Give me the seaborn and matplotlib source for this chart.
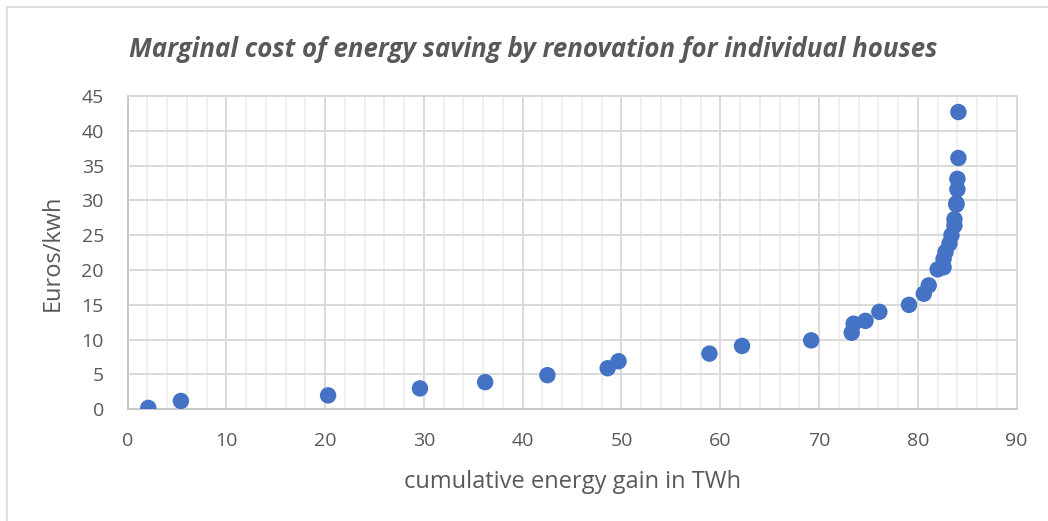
import matplotlib
matplotlib.use("Agg")
import matplotlib.pyplot as plt
import seaborn as sns
import pandas as pd
from matplotlib.ticker import MultipleLocator
from matplotlib.patches import Rectangle

# values
energy_gain = [2.1, 5.4, 20.3, 29.6, 36.2, 42.5, 48.6, 49.7, 58.9, 62.2,
               69.2, 73.3, 73.5, 74.7, 76.1, 79.1, 80.6, 81.1, 82.0, 82.6,
               82.6, 82.8, 83.2, 83.4, 83.7, 83.7, 83.9, 83.9, 84.0, 84.0,
               84.1, 84.1]
cost_per_kwh = [0.2, 1.2, 2.0, 3.0, 3.9, 4.9, 5.9, 6.9, 8.0, 9.1,
                9.9, 11.0, 12.3, 12.7, 14.0, 15.0, 16.6, 17.8, 20.1, 20.4,
                21.6, 22.6, 23.8, 25.0, 26.4, 27.3, 29.4, 29.6, 31.6, 33.1,
                36.1, 42.7]

df = pd.DataFrame({"gain": energy_gain, "cost": cost_per_kwh})

sns.set_style("white")
plt.rcParams['font.family'] = ['Open Sans', 'DejaVu Sans']

text_grey = "#595959"
grid_major = "#D9D9D9"
grid_minor = "#EFEFEF"

fig = plt.figure(figsize=(10.48, 5.21), dpi=100)
ax = fig.add_axes([0.1217, 0.2144, 0.9701 - 0.1217, 0.8157 - 0.2144])

sns.scatterplot(data=df, x="gain", y="cost", ax=ax, color="#4472C4",
                s=140, edgecolor="none", zorder=3)

ax.set_xlim(0, 90)
ax.set_ylim(0, 45)
ax.xaxis.set_major_locator(MultipleLocator(10))
ax.xaxis.set_minor_locator(MultipleLocator(2))
ax.yaxis.set_major_locator(MultipleLocator(5))

ax.grid(True, which="major", color=grid_major, linewidth=1.4, zorder=1)
ax.grid(True, which="minor", axis="x", color=grid_minor, linewidth=1.4, zorder=0)
ax.set_axisbelow(True)
for side in ax.spines.values():
    side.set_color(grid_major)
    side.set_linewidth(1.4)
ax.spines["bottom"].set_color("#C8C8C8")
ax.spines["left"].set_color("#C8C8C8")

ax.tick_params(which="both", length=0, labelsize=14, labelcolor=text_grey)
ax.tick_params(axis="x", pad=16)
ax.tick_params(axis="y", pad=17)

ax.set_xlabel("cumulative energy gain in TWh", fontsize=17, color=text_grey, labelpad=15)
ax.set_ylabel("Euros/kwh", fontsize=17, color=text_grey)
# y label sits close to the tick labels in the original
ax.yaxis.set_label_coords(-0.0703, 0.5)

fig.text(0.5086, 0.905, "Marginal cost of energy saving by renovation for individual houses",
         ha="center", va="center", fontsize=18.6, fontweight="bold", fontstyle="italic",
         color=text_grey)

# chart frame
fig.patches.append(Rectangle((7 / 1048, -0.1), 1.2, 1 - 7 / 521 + 0.1,
                             transform=fig.transFigure, fill=False,
                             edgecolor="#D9D9D9", linewidth=1.2))

fig.savefig("out.png", dpi=100)
